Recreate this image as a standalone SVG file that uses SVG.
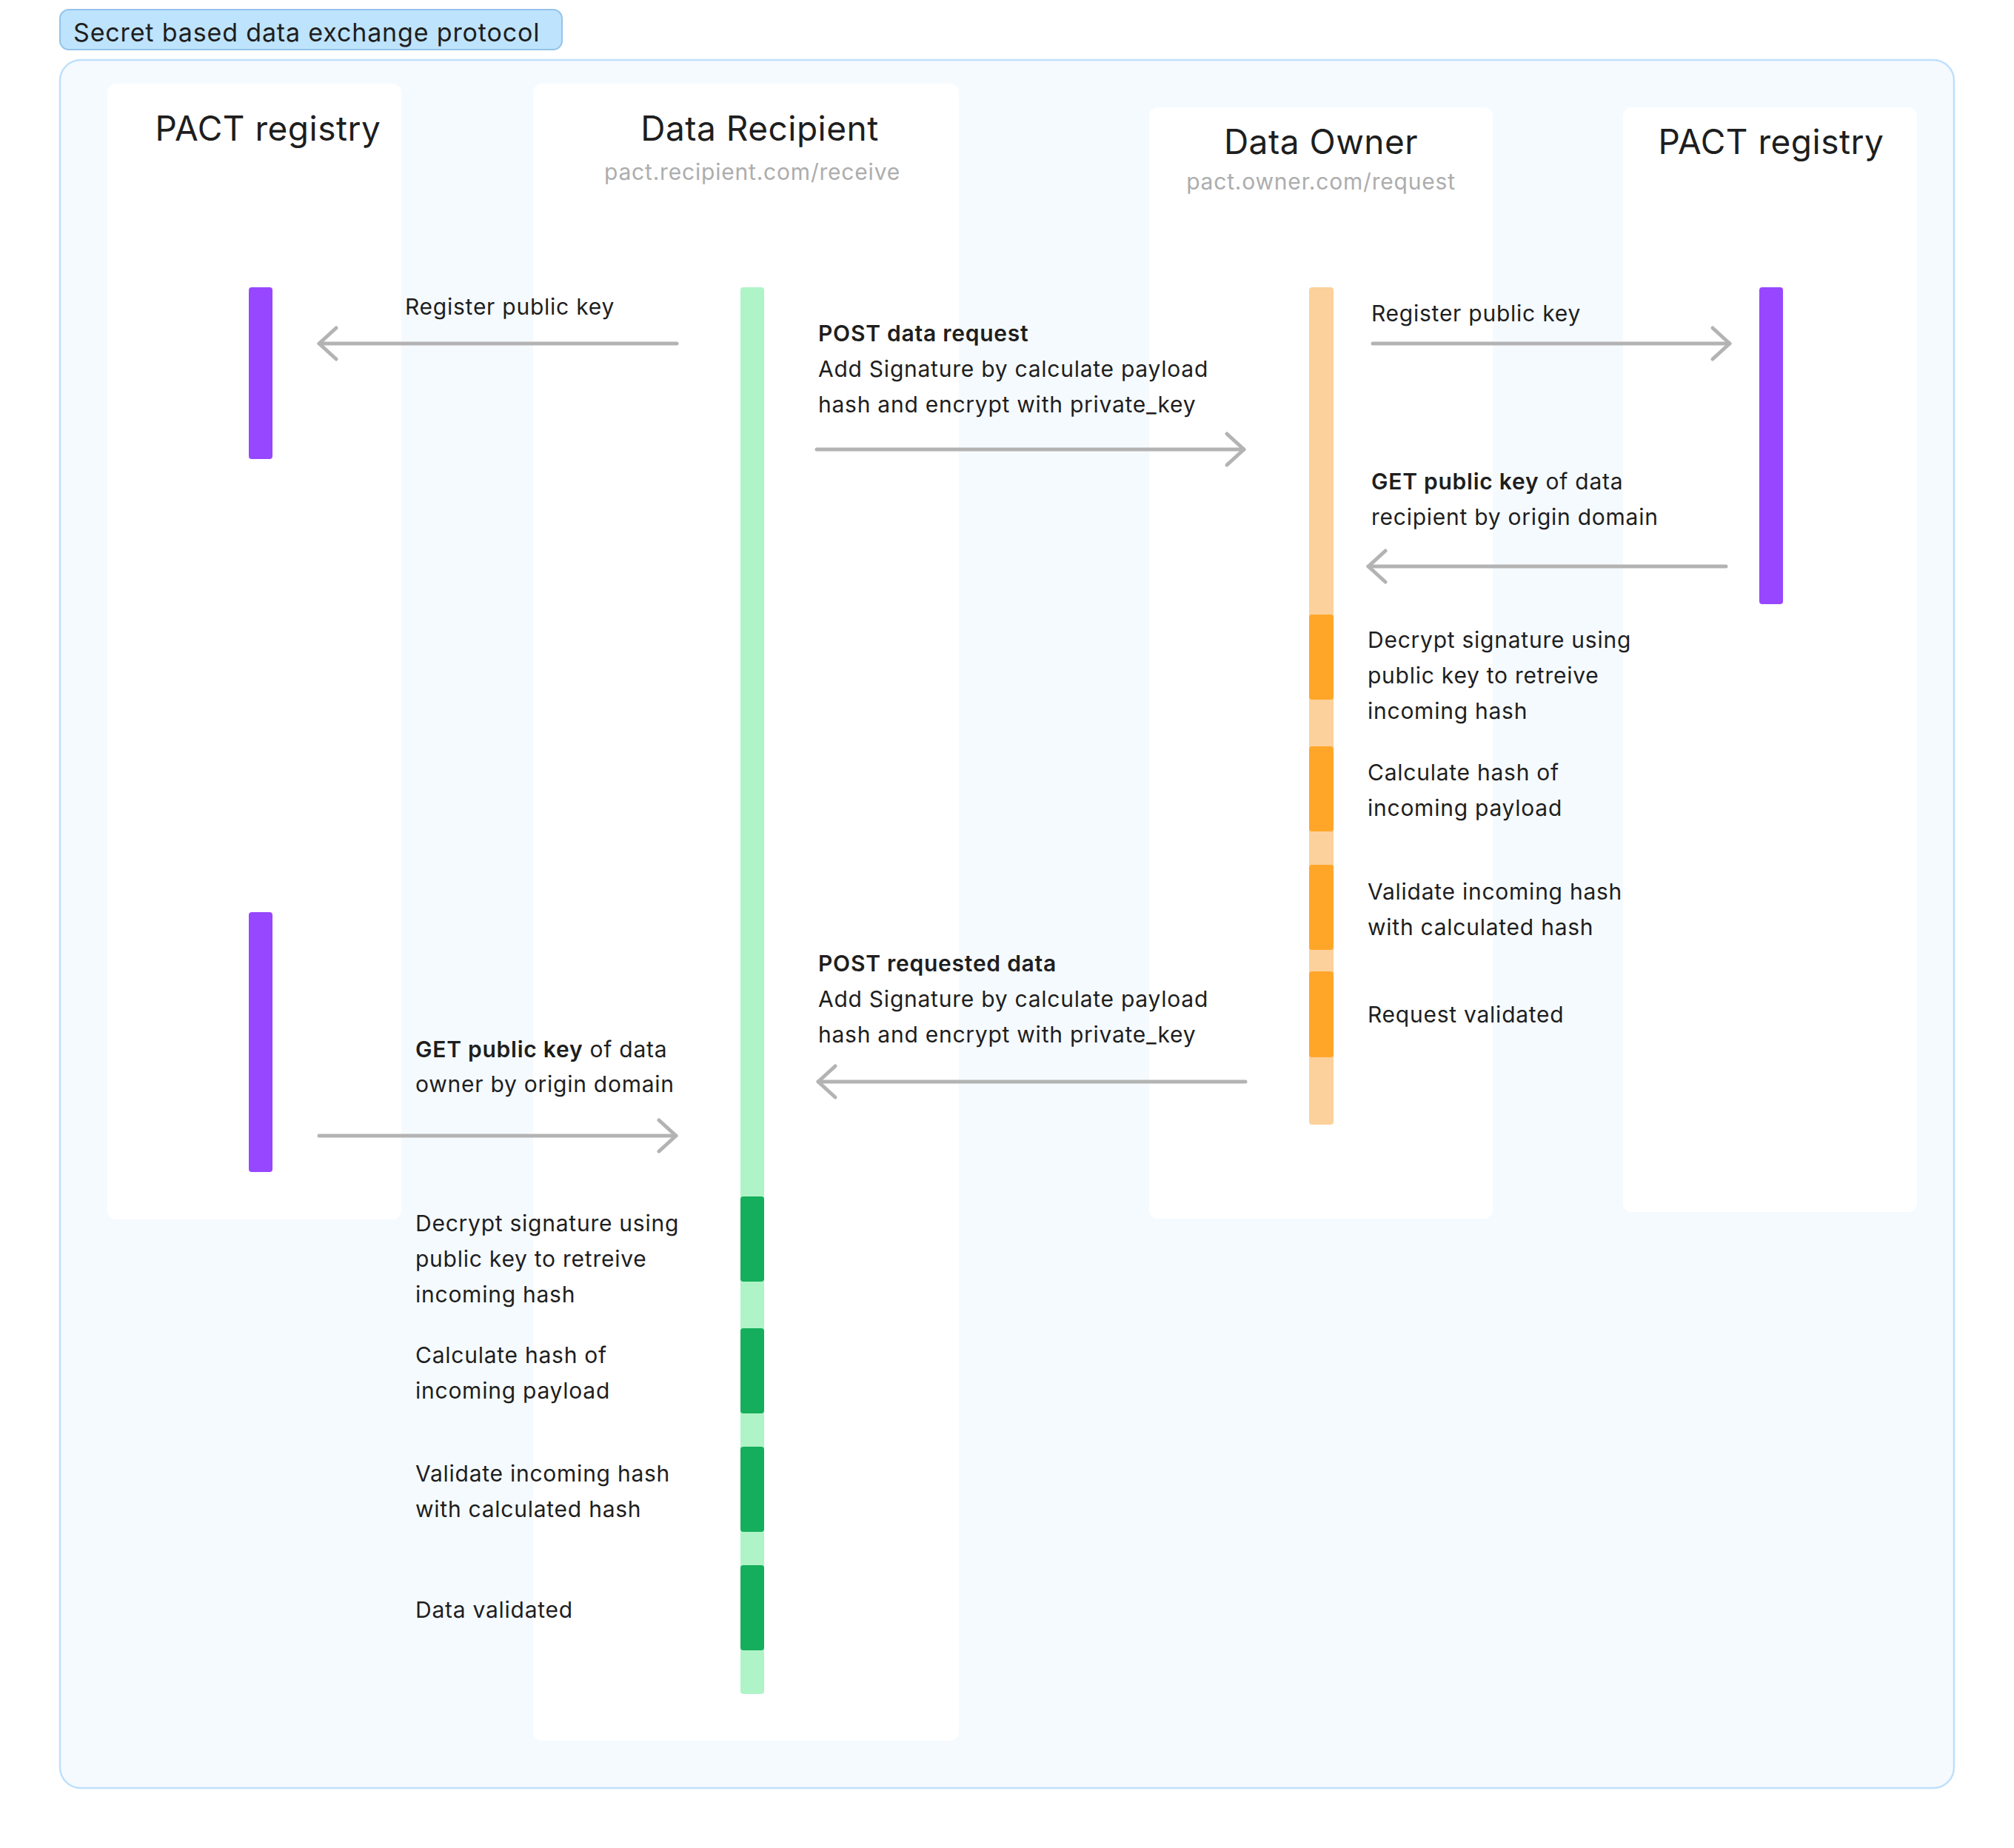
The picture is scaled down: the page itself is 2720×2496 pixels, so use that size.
<svg xmlns="http://www.w3.org/2000/svg" width="2720" height="2496" viewBox="0 0 2720 2496">
<defs>
<style>
text{font-family:Inter,"Noto Sans","Liberation Sans",sans-serif;fill:#1e1e1e}
.t{font-size:30px;letter-spacing:0.75px}
.b{font-weight:600}
.h{font-size:46px;letter-spacing:0.5px;text-anchor:middle}
.s{font-size:30px;letter-spacing:0.8px;text-anchor:middle;fill:#adadad}
.col{fill:#ffffff}
.pu{fill:#9747ff}
.gl{fill:#aff4c6}
.gd{fill:#14ae5c}
.ol{fill:#fcd19c}
.od{fill:#ffa629}
.ar{stroke:#b3b3b3;stroke-width:5;stroke-linecap:round;fill:none}
</style>
<marker id="ah" markerUnits="userSpaceOnUse" viewBox="-30 -30 60 60" markerWidth="60" markerHeight="60" refX="0" refY="0" orient="auto" overflow="visible">
<path d="M-23,-21 L0,0 L-23,21" fill="none" stroke="#b3b3b3" stroke-width="5" stroke-linecap="round" stroke-linejoin="round"/>
</marker>
</defs>
<rect width="2720" height="2496" fill="#ffffff"/>
<g id="frame">
<rect x="81" y="13" width="678" height="54" rx="12" fill="#bee3fc" stroke="#94c3ea" stroke-width="2"/>
<text x="99" y="56" style="font-size:34px;letter-spacing:0.85px">Secret based data exchange protocol</text>
<rect x="81" y="81" width="2558" height="2334" rx="28" fill="#f5faff" stroke="#bfe0fa" stroke-width="2.5"/>
</g>
<g id="pact-left">
<rect class="col" x="145" y="113" width="397" height="1534" rx="12"/>
<text class="h" x="362" y="190">PACT registry</text>
<rect class="pu" x="336" y="388" width="32" height="232" rx="4"/>
<rect class="pu" x="336" y="1232" width="32" height="351" rx="4"/>
</g>
<g id="data-recipient">
<rect class="col" x="720" y="113" width="575" height="2238" rx="12"/>
<text class="h" x="1026" y="190">Data Recipient</text>
<text class="s" x="1016" y="243">pact.recipient.com/receive</text>
<rect class="gl" x="1000" y="388" width="32" height="1900" rx="4"/>
<rect class="gd" x="1000" y="1616" width="32" height="115" rx="4"/>
<rect class="gd" x="1000" y="1794" width="32" height="115" rx="4"/>
<rect class="gd" x="1000" y="1954" width="32" height="115" rx="4"/>
<rect class="gd" x="1000" y="2114" width="32" height="115" rx="4"/>
</g>
<g id="data-owner">
<rect class="col" x="1552" y="145" width="464" height="1501" rx="12"/>
<text class="h" x="1784" y="208">Data Owner</text>
<text class="s" x="1784" y="256">pact.owner.com/request</text>
<rect class="ol" x="1768" y="388" width="33" height="1131" rx="4"/>
<rect class="od" x="1768" y="830" width="33" height="115" rx="4"/>
<rect class="od" x="1768" y="1008" width="33" height="115" rx="4"/>
<rect class="od" x="1768" y="1168" width="33" height="115" rx="4"/>
<rect class="od" x="1768" y="1312" width="33" height="116" rx="4"/>
</g>
<g id="pact-right">
<rect class="col" x="2192" y="145" width="397" height="1492" rx="12"/>
<text class="h" x="2392" y="208">PACT registry</text>
<rect class="pu" x="2376" y="388" width="32" height="428" rx="4"/>
</g>
<g id="connectors">
<line class="ar" x1="914" y1="464" x2="431" y2="464" marker-end="url(#ah)"/>
<line class="ar" x1="1103" y1="607" x2="1680" y2="607" marker-end="url(#ah)"/>
<line class="ar" x1="1854" y1="464" x2="2336" y2="464" marker-end="url(#ah)"/>
<line class="ar" x1="2331" y1="765" x2="1848" y2="765" marker-end="url(#ah)"/>
<line class="ar" x1="1682" y1="1461" x2="1105" y2="1461" marker-end="url(#ah)"/>
<line class="ar" x1="431" y1="1534" x2="913" y2="1534" marker-end="url(#ah)"/>
</g>
<g id="labels">
<text class="t" x="547" y="425">Register public key</text>
<text class="t" x="1105" y="461"><tspan class="b">POST data request</tspan><tspan x="1105" y="509">Add Signature by calculate payload</tspan><tspan x="1105" y="557">hash and encrypt with private_key</tspan></text>
<text class="t" x="1852" y="434">Register public key</text>
<text class="t" x="1852" y="661"><tspan class="b">GET public key</tspan> of data<tspan x="1852" y="709">recipient by origin domain</tspan></text>
<text class="t" x="1847" y="875">Decrypt signature using<tspan x="1847" y="923">public key to retreive</tspan><tspan x="1847" y="971">incoming hash</tspan></text>
<text class="t" x="1847" y="1054">Calculate hash of<tspan x="1847" y="1102">incoming payload</tspan></text>
<text class="t" x="1847" y="1215">Validate incoming hash<tspan x="1847" y="1263">with calculated hash</tspan></text>
<text class="t" x="1847" y="1381">Request validated</text>
<text class="t" x="1105" y="1312"><tspan class="b">POST requested data</tspan><tspan x="1105" y="1360">Add Signature by calculate payload</tspan><tspan x="1105" y="1408">hash and encrypt with private_key</tspan></text>
<text class="t" x="561" y="1428"><tspan class="b">GET public key</tspan> of data<tspan x="561" y="1475">owner by origin domain</tspan></text>
<text class="t" x="561" y="1663">Decrypt signature using<tspan x="561" y="1711">public key to retreive</tspan><tspan x="561" y="1759">incoming hash</tspan></text>
<text class="t" x="561" y="1841">Calculate hash of<tspan x="561" y="1889">incoming payload</tspan></text>
<text class="t" x="561" y="2001">Validate incoming hash<tspan x="561" y="2049">with calculated hash</tspan></text>
<text class="t" x="561" y="2185">Data validated</text>
</g>
</svg>
